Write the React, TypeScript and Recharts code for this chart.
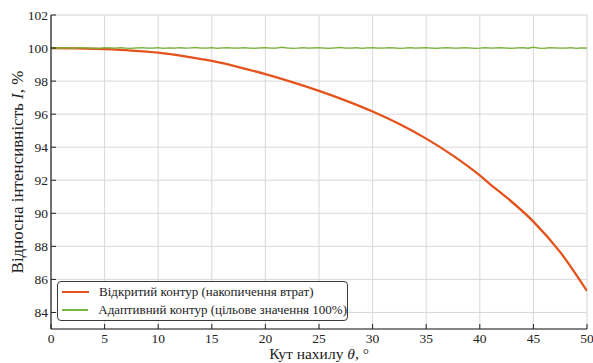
import React from 'react';
import { LineChart, Line, XAxis, YAxis, CartesianGrid, Legend } from 'recharts';

// ---- data ----
const openAngles = [0, 2.5, 5, 7.5, 10, 12.5, 15, 17.5, 20, 22.5, 25, 27.5, 30, 32.5, 35, 37.5, 40, 41, 42.5, 45, 47.5, 50];
const openIntensity = [100.0, 99.98, 99.93, 99.85, 99.72, 99.5, 99.22, 98.85, 98.42, 97.94, 97.41, 96.82, 96.16, 95.4, 94.52, 93.49, 92.29, 91.74, 90.96, 89.5, 87.65, 85.3];

const adaptiveAngles = Array.from({ length: 101 }, (_, i) => i * 0.5);
const adaptiveIntensity = [
  100.00, 100.01, 99.99, 100.02, 99.98, 100.01, 100.03, 99.99, 100.00, 99.98,
  100.02, 100.01, 99.99, 100.03, 100.00, 99.98, 100.01, 100.02, 99.99, 100.00,
  100.03, 99.98, 100.01, 100.00, 100.02, 99.99, 100.01, 100.04, 99.99, 100.00,
  100.02, 99.98, 100.01, 100.03, 100.00, 99.99, 100.02, 100.00, 99.98, 100.01,
  100.03, 99.99, 100.00, 100.05, 100.01, 99.98, 100.00, 100.03, 99.99, 100.01,
  100.02, 100.00, 99.98, 100.01, 100.04, 99.99, 100.00, 100.02, 99.98, 100.01,
  100.03, 100.00, 99.99, 100.02, 100.01, 99.98, 100.00, 100.03, 99.99, 100.01,
  100.02, 100.00, 99.98, 100.01, 100.03, 99.99, 100.00, 100.02, 100.01, 99.98,
  100.00, 100.03, 99.99, 100.01, 100.02, 100.00, 99.98, 100.01, 100.03, 99.99,
  100.05, 100.00, 99.98, 100.02, 100.01, 99.99, 100.00, 100.03, 99.98, 100.01, 100.00,
];

const xMajorTicks = [0, 5, 10, 15, 20, 25, 30, 35, 40, 45, 50];
const xMinorTicks = Array.from({ length: 51 }, (_, i) => i);
const yMajorTicks = [84, 86, 88, 90, 92, 94, 96, 98, 100, 102];
const yMinorTicks = Array.from({ length: 20 }, (_, i) => 83 + i);

const openName = 'Відкритий контур (накопичення втрат)';
const adaptiveName = 'Адаптивний контур (цільове значення 100%)';
const seriesOrder = [openName, adaptiveName];

const openData = openAngles.map((a, i) => ({ theta: a, value: openIntensity[i] }));
const adaptiveData = adaptiveAngles.map((a, i) => ({ theta: a, value: adaptiveIntensity[i] }));

// ---- style ----
const FONT = '"Liberation Serif", "Times New Roman", serif';
const INK = '#222222';
const ORANGE = '#E5531D';
const GREEN = '#78B436';

const XTitle = (props: any) => {
  const { x, y, width } = props.viewBox;
  return (
    <text x={x + width / 2} y={y + 30} textAnchor="middle" fontSize={15.5} fill={INK} style={{ fontFamily: FONT }}>
      Кут нахилу <tspan fontStyle="italic">θ</tspan>, °
    </text>
  );
};

const YTitle = (props: any) => {
  const { x, y, height } = props.viewBox;
  const cx = x + 17;
  const cy = y + height / 2;
  return (
    <text
      x={cx}
      y={cy}
      transform={`rotate(-90, ${cx}, ${cy})`}
      textAnchor="middle"
      dominantBaseline="central"
      fontSize={17}
      fill={INK}
      style={{ fontFamily: FONT }}
    >
      Відносна інтенсивність <tspan fontStyle="italic">I</tspan>, %
    </text>
  );
};

const LegendBox = (props: any) => {
  const payload = [...(props.payload || [])].sort(
    (a: any, b: any) => seriesOrder.indexOf(a.value) - seriesOrder.indexOf(b.value)
  );
  return (
    <div
      style={{
        border: '1px solid #3a3a3a',
        borderRadius: 4,
        background: '#fff',
        width: 291,
        height: 40,
        boxSizing: 'border-box',
        padding: '1px 0 0 4px',
        fontFamily: FONT,
        fontSize: 13,
        color: INK,
      }}
    >
      {payload.map((p: any, i: number) => (
        <div key={i} style={{ display: 'flex', alignItems: 'center', height: 18, whiteSpace: 'nowrap' }}>
          <span style={{ display: 'inline-block', width: 27, height: i === 0 ? 2 : 1.5, background: p.color, marginRight: 10 }} />
          <span style={{ fontFamily: FONT }}>{p.value}</span>
        </div>
      ))}
    </div>
  );
};

const tickStyle = { fill: INK, fontSize: 13.5, style: { fontFamily: FONT } };

export default function App() {
  const axisLine = { stroke: INK, strokeWidth: 1.2 };
  const tickLine = { stroke: INK, strokeWidth: 1 };
  return (
    <div style={{ position: 'absolute', left: 0, top: 0, width: 593, height: 363, background: '#fff', fontFamily: FONT }}>
      <LineChart
        width={593}
        height={363}
        margin={{ top: 15, right: 6, left: 0, bottom: 0 }}
        style={{ fontFamily: FONT }}
      >
        {/* bottom axes */}
        <XAxis xAxisId="bMinor" type="number" dataKey="theta" domain={[0, 50]} ticks={xMinorTicks} interval={0}
          tickSize={-2.5} tick={false} axisLine={false} tickLine={tickLine} height={0} allowDataOverflow />
        <XAxis xAxisId="b" type="number" dataKey="theta" domain={[0, 50]} ticks={xMajorTicks} interval={0}
          tickSize={-5} tickMargin={9} axisLine={axisLine} tickLine={tickLine} height={34} allowDataOverflow
          tick={tickStyle} label={<XTitle />} />
        {/* top axes */}
        <XAxis xAxisId="tMinor" orientation="top" type="number" dataKey="theta" domain={[0, 50]} ticks={xMinorTicks} interval={0}
          tickSize={-2.5} tick={false} axisLine={false} tickLine={tickLine} height={0} allowDataOverflow />
        <XAxis xAxisId="t" orientation="top" type="number" dataKey="theta" domain={[0, 50]} ticks={xMajorTicks} interval={0}
          tickSize={-5} tick={false} axisLine={axisLine} tickLine={tickLine} height={0} allowDataOverflow />
        {/* left axes */}
        <YAxis yAxisId="lMinor" type="number" domain={[83, 102]} ticks={yMinorTicks} interval={0}
          tickSize={-2.5} tick={false} axisLine={false} tickLine={tickLine} width={0} allowDataOverflow />
        <YAxis yAxisId="l" type="number" domain={[83, 102]} ticks={yMajorTicks} interval={0}
          tickSize={-5} tickMargin={8} axisLine={axisLine} tickLine={tickLine} width={51} allowDataOverflow
          tick={tickStyle} label={<YTitle />} />
        {/* right axes */}
        <YAxis yAxisId="rMinor" orientation="right" type="number" domain={[83, 102]} ticks={yMinorTicks} interval={0}
          tickSize={-2.5} tick={false} axisLine={false} tickLine={tickLine} width={0} allowDataOverflow />
        <YAxis yAxisId="r" orientation="right" type="number" domain={[83, 102]} ticks={yMajorTicks} interval={0}
          tickSize={-5} tick={false} axisLine={axisLine} tickLine={tickLine} width={0} allowDataOverflow />

        <CartesianGrid xAxisId="bMinor" yAxisId="lMinor" stroke="#efefef" strokeWidth={0.8} />
        <CartesianGrid xAxisId="b" yAxisId="l" stroke="#d4d4d4" strokeWidth={0.9} />

        <Line xAxisId="b" yAxisId="l" data={openData} dataKey="value" name={openName} type="monotone"
          stroke={ORANGE} strokeWidth={2.3} dot={false} isAnimationActive={false} />
        <Line xAxisId="b" yAxisId="l" data={adaptiveData} dataKey="value" name={adaptiveName} type="linear"
          stroke={GREEN} strokeWidth={1.3} dot={false} isAnimationActive={false} />

        <Legend layout="vertical" align="center" verticalAlign="middle" content={<LegendBox />}
          wrapperStyle={{ left: 57, top: 281, width: 'auto', height: 'auto' }} />
      </LineChart>
    </div>
  );
}
